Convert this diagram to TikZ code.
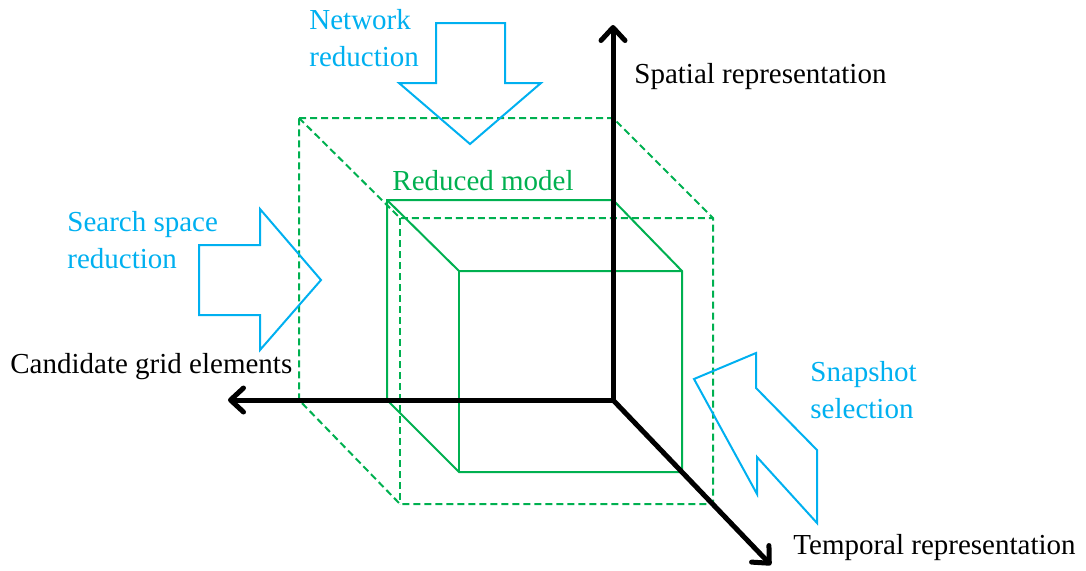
\documentclass[tikz,border=0pt]{standalone}
\usepackage{fontspec}
\setmainfont{Liberation Serif}
\usetikzlibrary{arrows.meta}
\definecolor{modelgreen}{RGB}{0,176,80}
\definecolor{reduceblue}{RGB}{0,176,240}

\begin{document}
\begin{tikzpicture}[x=0.5pt,y=-0.5pt,
        axis/.style={line width=2.5pt, -{Straight Barb[length=6.5pt,width=12pt,round]}},
        cube/.style={modelgreen, line width=1pt},
        hull/.style={modelgreen, line width=1pt, dash pattern=on 3.5pt off 2pt},
        blockarrow/.style={draw=reduceblue, line width=1pt, line join=miter},
        lbl/.style={inner sep=0pt, anchor=west, align=left, font=\fontsize{14.5}{18.5}\selectfont}]
        \useasboundingbox (0,0) rectangle (1086,570);

        % Outer (dashed) box
        \draw[hull] (299,118) -- (613,118) -- (713,218) -- (713,504) -- (400,504) -- (299,400) -- cycle;
        \draw[hull] (299,118) -- (400,218) -- (713,218);
        \draw[hull] (400,218) -- (400,504);

        % Reduced model
        \draw[cube] (387,400) -- (387,200) -- (613,200) -- (682,271) -- (682,472) -- (459,472) -- (387,400);
        \draw[cube] (387,200) -- (459,271) -- (682,271);
        \draw[cube] (459,271) -- (459,472);

        % Axes
        \coordinate (O) at (613,400);
        \coordinate (spatial) at (613,25);
        \coordinate (grid) at (228,400);
        \coordinate (temporal) at (771,565);
        \draw[axis] (O) -- (spatial);
        \draw[axis] (O) -- (grid);
        \draw[axis] (O) -- (temporal);

        \node[lbl] (spatialtext) at (634,77) {Spatial representation};
        \node[lbl] (gridtext) at (10,367) {Candidate grid elements};
        \node[lbl] (temporaltext) at (793,548) {Temporal representation};
        \node[lbl, text=modelgreen] (model) at (392,181) {Reduced model};

        % Reductions
        \draw[blockarrow] (436,23) -- (505,23) -- (505,83) -- (541,83) -- (470,144) -- (399,83) -- (436,83) -- cycle; % network
        \draw[blockarrow] (199,245) -- (260,245) -- (260,209) -- (321,280) -- (260,350) -- (260,315) -- (199,315) -- cycle; % search space
        \draw[blockarrow] (694,379) -- (756,353) -- (756,388) -- (817,450) -- (817,523) -- (757,457) -- (757,494) -- cycle; % snapshots

        \node[lbl, text=reduceblue] (network) at (309,38) {Network\\reduction};
        \node[lbl, text=reduceblue] (search) at (67,240) {Search space\\reduction};
        \node[lbl, text=reduceblue] (snapshot) at (810,390) {Snapshot\\selection};
    \end{tikzpicture}
\end{document}
